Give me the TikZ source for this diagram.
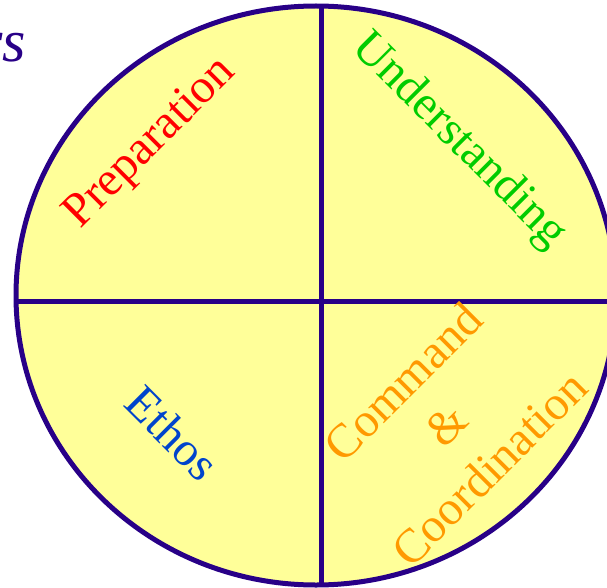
\documentclass[tikz,border=0pt]{standalone}
\usepackage{fontspec}
\setmainfont{Liberation Serif}
\usepackage{tikz}

\definecolor{rimblue}{RGB}{40,0,135}
\definecolor{padyellow}{RGB}{255,255,153}
\definecolor{prepred}{RGB}{255,0,0}
\definecolor{undgreen}{RGB}{0,204,0}
\definecolor{ethblue}{RGB}{0,68,204}
\definecolor{cmdorange}{RGB}{255,153,0}

\begin{document}
\begin{tikzpicture}[x=1pt,y=1pt,yscale=-1,xscale=1,
  rim/.style={draw=rimblue,line width=5pt},
  word/.style={inner sep=0pt,font=\fontsize{48}{61}\selectfont}]
\useasboundingbox (0,0) rectangle (607,588);

%Shape: Ellipse [id:wheel]
\draw [rim,fill=padyellow] (316,295.5) ellipse [x radius=300, y radius=289.5];
%Straight Lines [id:vline]
\draw [rim] (321,6) -- (321,585);
%Straight Lines [id:hline]
\draw [rim] (16,301) -- (607,301);

% Text Node
\node (rs) [anchor=base east,inner sep=0pt,text=rimblue,font=\fontsize{60}{66}\selectfont\itshape] at (26,62) {rs};
% Text Node
\node (prep) [word,text=prepred,rotate=45] at (151,144) {Preparation};
% Text Node
\node (under) [word,text=undgreen,rotate=-45] at (459,141) {Understanding};
% Text Node
\node (ethos) [word,text=ethblue,rotate=-45] at (173,433) {Ethos};
% Text Node
\node (command) [word,text=cmdorange,rotate=45,align=center] at (446,425) {Command\\\&\\Coordination};
\end{tikzpicture}
\end{document}
